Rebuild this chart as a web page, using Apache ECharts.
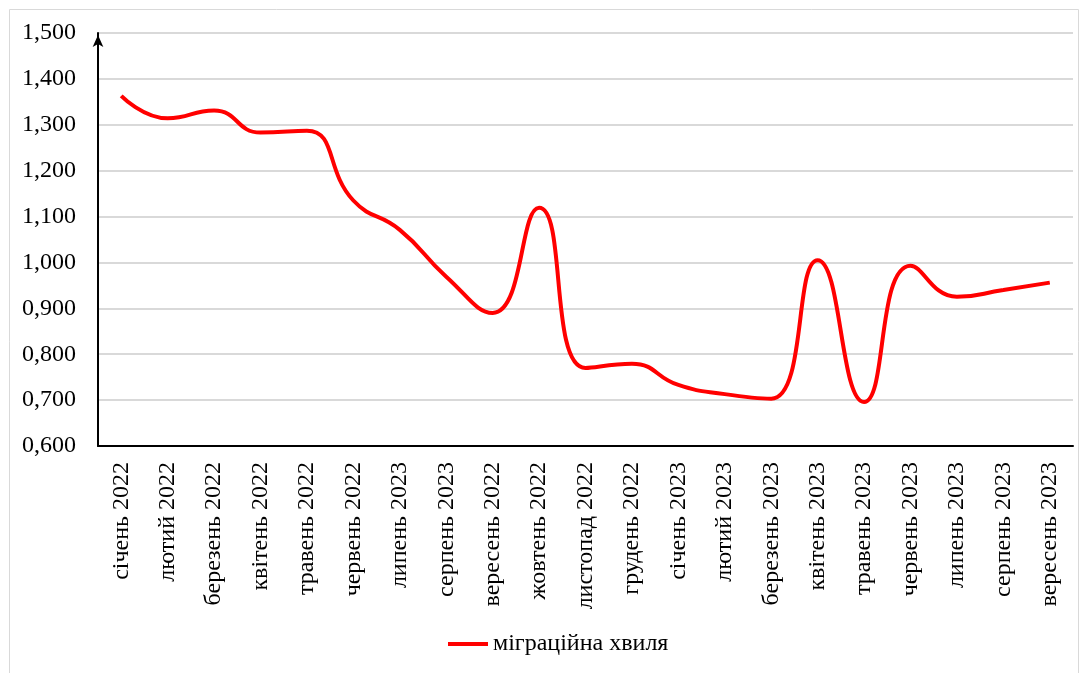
<!DOCTYPE html>
<html>
<head>
<meta charset="utf-8">
<script src="https://cdn.jsdelivr.net/npm/echarts@6/dist/echarts.min.js"></script>
<style>
  html, body { margin: 0; padding: 0; background: #fff; }
  #chart { width: 1084px; height: 673px; }
</style>
</head>
<body>
<div id="chart"></div>
<script>
// категорії (місяці)
const months = [
  "січень 2022", "лютий 2022", "березень 2022", "квітень 2022", "травень 2022",
  "червень 2022", "липень 2023", "серпень 2023", "вересень 2022", "жовтень 2022",
  "листопад 2022", "грудень 2022", "січень 2023", "лютий 2023", "березень 2023",
  "квітень 2023", "травень 2023", "червень 2023", "липень 2023", "серпень 2023",
  "вересень 2023"
];
// значення
const wave = [
  1.363, 1.314, 1.331, 1.283, 1.287,
  1.135, 1.071, 0.969, 0.890, 1.119,
  0.770, 0.779, 0.733, 0.713, 0.703,
  1.005, 0.696, 0.993, 0.925, 0.940,
  0.956
];
const seriesName = "міграційна хвиля";

const serif = "'Liberation Serif', 'Times New Roman', serif";
const chart = echarts.init(document.getElementById("chart"));

chart.setOption({
  animation: false,
  textStyle: { fontFamily: serif },
  graphic: [
    {
      type: "rect",
      shape: { x: 9.5, y: 9.5, width: 1069, height: 670 },
      style: { fill: "none", stroke: "#d9d9d9", lineWidth: 1 },
      silent: true
    }
  ],
  grid: { left: 98, right: 11, top: 33, bottom: 227 },
  legend: {
    bottom: 12,
    left: 443,
    itemWidth: 40,
    itemHeight: 4,
    icon: "rect",
    textStyle: { fontFamily: serif, fontSize: 24, color: "#000" },
    data: [seriesName]
  },
  xAxis: {
    type: "category",
    data: months,
    boundaryGap: true,
    axisLine: { show: true, lineStyle: { color: "#000", width: 2 } },
    axisTick: { show: false },
    axisLabel: {
      rotate: 90,
      interval: 0,
      margin: 16,
      fontFamily: serif,
      fontSize: 24,
      color: "#000"
    }
  },
  yAxis: {
    type: "value",
    min: 0.6,
    max: 1.5,
    interval: 0.1,
    axisLine: {
      show: true,
      symbol: ["none", "arrow"],
      symbolSize: [8, 12],
      symbolOffset: [0, -2],
      lineStyle: { color: "#000", width: 2 }
    },
    axisTick: { show: false },
    splitLine: { lineStyle: { color: "#d9d9d9", width: 2 } },
    axisLabel: {
      margin: 22,
      fontFamily: serif,
      fontSize: 24,
      color: "#000",
      formatter: v => v.toFixed(3).replace(".", ",")
    }
  },
  series: [
    {
      name: seriesName,
      type: "line",
      data: wave,
      smooth: 0.5,
      showSymbol: false,
      lineStyle: { color: "#ff0000", width: 4 },
      itemStyle: { color: "#ff0000" }
    }
  ]
});
</script>
</body>
</html>
